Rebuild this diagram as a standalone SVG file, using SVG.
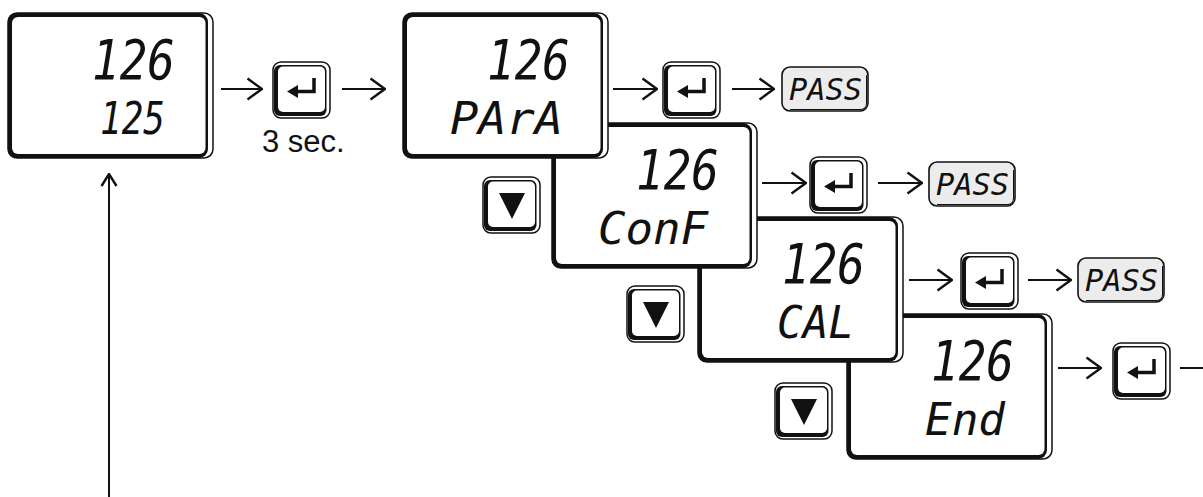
<svg xmlns="http://www.w3.org/2000/svg" xmlns:xlink="http://www.w3.org/1999/xlink" width="1203" height="497" viewBox="0 0 1203 497">
<style>
.seg{font-family:"DejaVu Sans Mono","Liberation Mono",monospace;font-style:italic;fill:#111}
.big{font-size:56px}
.mid{font-size:44px}
.pass{font-family:"DejaVu Sans Mono","Liberation Mono",monospace;font-style:italic;font-size:30px;fill:#111}
.lbl{font-family:"Liberation Sans",Arial,sans-serif;font-size:31px;fill:#111}
.conn{stroke:#111;stroke-width:2;fill:none}
.glyph{stroke:#111;stroke-width:3.5;fill:none}
</style>
<defs>
<marker id="ah" viewBox="0 0 17 24" refX="16" refY="12" markerWidth="17" markerHeight="24" markerUnits="userSpaceOnUse" orient="auto">
<path d="M1.5,1.5 Q9,7 16,12 Q9,17 1.5,22.5" fill="none" stroke="#111" stroke-width="2.4"/>
</marker>
<marker id="ahs" viewBox="0 0 14 18" refX="13" refY="9" markerWidth="14" markerHeight="18" markerUnits="userSpaceOnUse" orient="auto">
<path d="M1,1.5 L13,9 L1,16.5" fill="none" stroke="#111" stroke-width="2.4"/>
</marker>
<g id="frame">
<rect x="0" y="0" width="205" height="145" rx="9" fill="#fff" stroke="#111" stroke-width="1.5"/>
<rect x="0" y="0" width="200" height="145" rx="9" fill="#111"/>
<rect x="4" y="4" width="193.5" height="137" rx="6" fill="#fff"/>
</g>
<g id="key">
<rect x="0" y="0" width="57" height="56" rx="8" fill="#fff" stroke="#111" stroke-width="1.5"/>
<rect x="1" y="3" width="52.5" height="51" rx="6" fill="#111"/>
<rect x="5" y="4.5" width="47" height="45.5" rx="5" fill="#fff"/>
</g>
<g id="enter">
<use xlink:href="#key"/>
<path class="glyph" d="M41,16 V29.5 H23"/>
<polygon points="14,29.5 25,23 25,36" fill="#111"/>
</g>
<g id="down">
<use xlink:href="#key"/>
<polygon points="16,16 42,16 29,42" fill="#111"/>
</g>
<g id="passbox">
<rect x="0" y="0" width="86" height="44" rx="8" fill="#ececec" stroke="#111" stroke-width="1.6"/>
<path d="M84.5,8 V36 Q84.5,42.5 78,42.5 H8" fill="none" stroke="#111" stroke-width="1"/>
</g>
</defs>

<g id="connectors">
<line class="conn" x1="221" y1="89" x2="262" y2="89" marker-end="url(#ah)"/>
<line class="conn" x1="342" y1="89" x2="385" y2="89" marker-end="url(#ah)"/>
<line class="conn" x1="613" y1="89" x2="657" y2="89" marker-end="url(#ah)"/>
<line class="conn" x1="732" y1="89" x2="774" y2="89" marker-end="url(#ah)"/>
<line class="conn" x1="762" y1="183" x2="806" y2="183" marker-end="url(#ah)"/>
<line class="conn" x1="878" y1="183" x2="922" y2="183" marker-end="url(#ah)"/>
<line class="conn" x1="909" y1="280" x2="952" y2="280" marker-end="url(#ah)"/>
<line class="conn" x1="1028" y1="280" x2="1071" y2="280" marker-end="url(#ah)"/>
<line class="conn" x1="1058" y1="368" x2="1101" y2="368" marker-end="url(#ah)"/>
<line class="conn" x1="1180" y1="368" x2="1203" y2="368"/>
<line class="conn" x1="109" y1="497" x2="109" y2="174" marker-end="url(#ahs)"/>
</g>

<g id="display-end" transform="translate(847,314)">
<use xlink:href="#frame"/>
<text class="seg big" x="84" y="66" textLength="83" lengthAdjust="spacingAndGlyphs">126</text>
<text class="seg mid" x="78" y="120.5" textLength="80" lengthAdjust="spacingAndGlyphs">End</text>
</g>
<g id="display-cal" transform="translate(698,217)">
<use xlink:href="#frame"/>
<text class="seg big" x="84" y="66" textLength="83" lengthAdjust="spacingAndGlyphs">126</text>
<text class="seg mid" x="79" y="120.5" textLength="77" lengthAdjust="spacingAndGlyphs">CAL</text>
</g>
<g id="display-conf" transform="translate(552,123)">
<use xlink:href="#frame"/>
<text class="seg big" x="84" y="66" textLength="83" lengthAdjust="spacingAndGlyphs">126</text>
<text class="seg mid" x="46" y="120.5" textLength="110" lengthAdjust="spacingAndGlyphs">ConF</text>
</g>
<g id="display-para" transform="translate(403,13)">
<use xlink:href="#frame"/>
<text class="seg big" x="84" y="66" textLength="83" lengthAdjust="spacingAndGlyphs">126</text>
<text class="seg mid" x="47" y="120.5" textLength="113" lengthAdjust="spacingAndGlyphs">PArA</text>
</g>
<g id="display-main" transform="translate(8,13)">
<use xlink:href="#frame"/>
<text class="seg big" x="84" y="66" textLength="83" lengthAdjust="spacingAndGlyphs">126</text>
<text class="seg mid" x="92" y="120.5" textLength="65" lengthAdjust="spacingAndGlyphs">125</text>
</g>

<g id="key-enter-1" transform="translate(273,62)"><use xlink:href="#enter"/></g>
<g id="label-3sec"><text class="lbl" x="262" y="152">3 sec.</text></g>
<g id="key-enter-2" transform="translate(663,62)"><use xlink:href="#enter"/></g>
<g id="key-enter-3" transform="translate(810,157)"><use xlink:href="#enter"/></g>
<g id="key-enter-4" transform="translate(961,253)"><use xlink:href="#enter"/></g>
<g id="key-enter-5" transform="translate(1113,343)"><use xlink:href="#enter"/></g>

<g id="key-down-1" transform="translate(483,177)"><use xlink:href="#down"/></g>
<g id="key-down-2" transform="translate(627,286)"><use xlink:href="#down"/></g>
<g id="key-down-3" transform="translate(775,383)"><use xlink:href="#down"/></g>

<g id="pass-1" transform="translate(782,67)">
<use xlink:href="#passbox"/>
<text class="pass" x="7" y="33" textLength="73" lengthAdjust="spacingAndGlyphs">PASS</text>
</g>
<g id="pass-2" transform="translate(929,162)">
<use xlink:href="#passbox"/>
<text class="pass" x="7" y="33" textLength="73" lengthAdjust="spacingAndGlyphs">PASS</text>
</g>
<g id="pass-3" transform="translate(1078,258)">
<use xlink:href="#passbox"/>
<text class="pass" x="7" y="33" textLength="73" lengthAdjust="spacingAndGlyphs">PASS</text>
</g>
</svg>
